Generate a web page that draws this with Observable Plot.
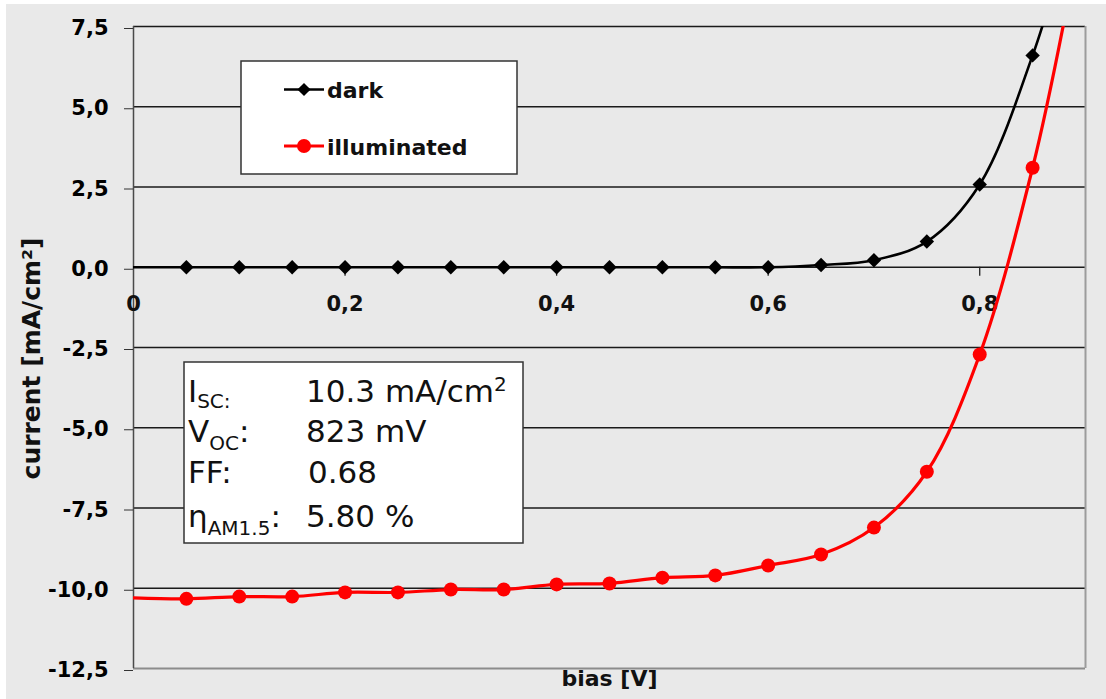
<!DOCTYPE html>
<html><head><meta charset="utf-8">
<script src="https://cdn.jsdelivr.net/npm/d3@7"></script>
<script src="https://cdn.jsdelivr.net/npm/@observablehq/plot@0.6"></script>
<style>
body{margin:0;background:#fff;}
#wrap{position:relative;width:1106px;height:699px;overflow:hidden;font-family:"DejaVu Sans",sans-serif;}
#panel{position:absolute;left:6px;top:4px;right:0;bottom:0;background:#e9e9e9;}
#chart{position:absolute;left:0;top:0;}
#overlay{position:absolute;left:0;top:0;}
</style></head><body>
<div id="wrap"><div id="panel"></div><div id="chart"></div><svg id="overlay" width="1106" height="699"></svg></div>
<script>
// ---- data ----
const bias = [0.05,0.10,0.15,0.20,0.25,0.30,0.35,0.40,0.45,0.50,0.55,0.60,0.65,0.70,0.75,0.80,0.85];
const dark = [0,0,0,0,0,0,0,0,0,0,0,0,0.07,0.22,0.80,2.58,6.60];
const illuminated = [-10.33,-10.26,-10.26,-10.13,-10.13,-10.04,-10.04,-9.88,-9.85,-9.67,-9.60,-9.29,-8.95,-8.11,-6.37,-2.72,3.10];
// fitted curve start/end (curve runs past the top of the frame)
const darkCurveStart = {x:0, y:0}, darkCurveEnd = {x:0.87, y:8.7};
const illumCurveStart = {x:0, y:-10.30}, illumCurveEnd = {x:0.88, y:7.7};
const xTicks = [0,0.2,0.4,0.6,0.8];
const yTicks = [-12.5,-10,-7.5,-5,-2.5,0,2.5,5,7.5];
const seriesNames = ["dark","illuminated"];
const seriesColors = ["#000000","#ff0000"];
const statLabels = [["I","SC:",""],["V","OC",":"],["FF:","",""],["η","AM1.5",":"]];
const statValues = ["10.3 mA/cm","823 mV","0.68","5.80 %"];

const darkPts = bias.map((b,i)=>({x:b,y:dark[i]}));
const illumPts = bias.map((b,i)=>({x:b,y:illuminated[i]}));
const darkCurve = [darkCurveStart, ...darkPts, darkCurveEnd];
const illumCurve = [illumCurveStart, ...illumPts, illumCurveEnd];

const yFmt = d => d.toFixed(1).replace(".", ",");
const xFmt = d => d === 0 ? "0" : d.toFixed(1).replace(".", ",");

const plot = Plot.plot({
  width:1106, height:699,
  marginLeft:133, marginRight:21, marginTop:26, marginBottom:31,
  style:{background:"transparent", fontFamily:"DejaVu Sans, sans-serif", overflow:"visible"},
  x:{domain:[0,0.9], axis:null},
  y:{domain:[-12.5,7.5], axis:null},
  marks:[
    Plot.ruleY(yTicks.filter(d=>d>-12.5), {stroke:"#1a1a1a", strokeWidth:1.3}),
    Plot.ruleY([-12.5], {stroke:"#8c8c8c", strokeWidth:2}),
    Plot.ruleX([0.9], {stroke:"#9c9c9c", strokeWidth:2}),
    Plot.ruleX([0], {stroke:"#4a4a4a", strokeWidth:1.5}),
    Plot.axisY({ticks:yTicks, tickFormat:yFmt, tickSize:9, tickPadding:16, fontSize:21, fontWeight:"bold", label:null, stroke:"#333", dy:2}),
    Plot.ruleX(xTicks.slice(1), {x:d=>d, y1:0, y2:0, insetBottom:-9, stroke:"#222", strokeWidth:1.3}),
    Plot.text(xTicks, {x:d=>d, y:0, text:d=>xFmt(d), dy:37, fontSize:21, fontWeight:"bold", fill:"#111"}),
    Plot.line(darkCurve, {x:"x", y:"y", stroke:seriesColors[0], strokeWidth:2.6, curve:"catmull-rom", clip:true}),
    Plot.line(illumCurve, {x:"x", y:"y", stroke:seriesColors[1], strokeWidth:3.2, curve:"catmull-rom", clip:true}),
    Plot.dot(darkPts, {x:"x", y:"y", symbol:"diamond2", r:6.5, fill:seriesColors[0], stroke:"none"}),
    Plot.dot(illumPts, {x:"x", y:"y", symbol:"circle", r:7, fill:seriesColors[1], stroke:"none"}),
    Plot.text(["current [mA/cm²]"], {frameAnchor:"left", textAnchor:"middle", dx:-102, dy:11, rotate:-90, fontSize:25, fontWeight:"bold", fill:"#111"}),
    Plot.text(["bias [V]"], {frameAnchor:"bottom", dy:17, fontSize:22, fontWeight:"bold", fill:"#111"})
  ]
});
document.getElementById("chart").appendChild(plot);

// ---- legend and statistics box (annotations) ----
const ov = d3.select("#overlay");
const lg = ov.append("g");
lg.append("rect").attr("x",241).attr("y",61).attr("width",276).attr("height",113)
  .attr("fill","#fff").attr("stroke","#333").attr("stroke-width",1.5);
const legY = [89.5, 146];
seriesNames.forEach((name,i)=>{
  const y = legY[i];
  lg.append("line").attr("x1",284).attr("x2",324).attr("y1",y).attr("y2",y)
    .attr("stroke",seriesColors[i]).attr("stroke-width",i?3.2:2.6);
  if(i===0){
    lg.append("path").attr("d",d3.symbol(d3.symbolDiamond2, 110)()).attr("transform",`translate(304,${y})`).attr("fill",seriesColors[i]);
  } else {
    lg.append("circle").attr("cx",304).attr("cy",y).attr("r",7).attr("fill",seriesColors[i]);
  }
  lg.append("text").attr("x",327).attr("y",y+8.5).text(name)
    .attr("font-family","DejaVu Sans").attr("font-weight","bold").attr("font-size",22).attr("fill","#111");
});

const sb = ov.append("g").attr("font-family","DejaVu Sans").attr("fill","#111");
sb.append("rect").attr("x",184).attr("y",362).attr("width",339).attr("height",181)
  .attr("fill","#fff").attr("stroke","#333").attr("stroke-width",1.5);
const rowY = [401.7, 442, 483, 526.7];
const valX = [306, 306, 308, 306];
statLabels.forEach((lab,i)=>{
  const t = sb.append("text").attr("x",188).attr("y",rowY[i]).attr("font-size",31);
  t.append("tspan").text(lab[0]);
  if(lab[1]) t.append("tspan").attr("font-size",20).attr("dy",i===0?6:8).text(lab[1]);
  if(lab[2]) t.append("tspan").attr("font-size",31).attr("dy",-8).text(lab[2]);
  const v = sb.append("text").attr("x",valX[i]).attr("y",rowY[i]).attr("font-size",31);
  v.append("tspan").text(statValues[i]);
  if(i===0) v.append("tspan").attr("font-size",20).attr("dy",-11).text("2");
});
</script>
</body></html>
